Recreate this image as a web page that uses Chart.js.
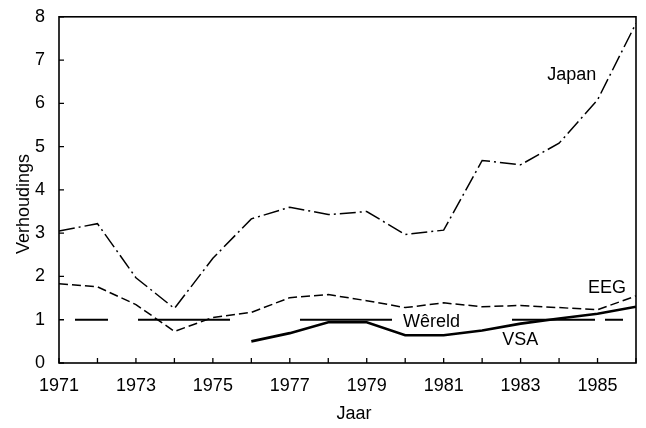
<!DOCTYPE html>
<html>
<head>
<meta charset="utf-8">
<script src="https://cdn.jsdelivr.net/npm/chart.js@4/dist/chart.umd.min.js"></script>
<style>
  html, body { margin: 0; padding: 0; background: #fff; }
  #wrap { width: 646px; height: 428px; }
</style>
</head>
<body>
<div id="wrap"><canvas id="c" width="646" height="428"></canvas></div>
<script>
"use strict";

// Years on the x axis, ratios.
const years = [1971, 1972, 1973, 1974, 1975, 1976, 1977, 1978, 1979, 1980, 1981, 1982, 1983, 1984, 1985, 1986];
const japan = [3.05, 3.22, 1.97, 1.26, 2.42, 3.33, 3.6, 3.43, 3.5, 2.97, 3.07, 4.68, 4.58, 5.08, 6.08, 7.85];
const eeg = [1.83, 1.76, 1.35, 0.73, 1.05, 1.17, 1.51, 1.58, 1.44, 1.28, 1.39, 1.3, 1.33, 1.28, 1.23, 1.55];
const vsa = [null, null, null, null, null, 0.5, 0.69, 0.94, 0.94, 0.64, 0.64, 0.75, 0.91, 1.03, 1.14, 1.3];
const wereld = [1, 1, 1, 1, 1, 1, 1, 1, 1, 1, 1, 1, 1, 1, 1, 1];
const yTicks = [0, 1, 2, 3, 4, 5, 6, 7, 8];

// In-chart labels: [text, x (year), y (ratio)]
const seriesLabels = [
  ["Japan", 1983.69, 6.65],
  ["EEG", 1984.75, 1.74],
  ["Wêreld", 1979.94, 0.94],
  ["VSA", 1982.52, 0.53],
];

const FONT = "'Liberation Sans', Arial, Helvetica, sans-serif";

const pts = (arr) => years.map((y, i) => ({ x: y, y: arr[i] }));

// Frame, inward tick marks, axis titles and series names.
const decor = {
  id: "decor",
  afterDraw(chart) {
    const { ctx, chartArea: a, scales } = chart;
    const xs = scales.x, ys = scales.y;
    ctx.save();
    ctx.strokeStyle = "#000";
    ctx.lineWidth = 1.6;
    ctx.strokeRect(a.left, a.top, a.right - a.left, a.bottom - a.top);

    ctx.lineWidth = 1.3;
    ctx.beginPath();
    years.forEach((yr) => {
      const px = xs.getPixelForValue(yr);
      ctx.moveTo(px, a.bottom);
      ctx.lineTo(px, a.bottom - 5);
    });
    yTicks.forEach((v) => {
      const py = ys.getPixelForValue(v);
      ctx.moveTo(a.left, py);
      ctx.lineTo(a.left + 5, py);
    });
    ctx.stroke();

    ctx.fillStyle = "#000";
    ctx.font = `18px ${FONT}`;
    ctx.textBaseline = "middle";
    ctx.textAlign = "left";
    seriesLabels.forEach(([t, x, y]) => {
      ctx.fillText(t, xs.getPixelForValue(x), ys.getPixelForValue(y));
    });

    ctx.textAlign = "center";
    ctx.fillText("Jaar", 354, 414);
    ctx.translate(24, 204);
    ctx.rotate(-Math.PI / 2);
    ctx.fillText("Verhoudings", 0, 0);
    ctx.restore();
  },
};

new Chart(document.getElementById("c"), {
  type: "line",
  data: {
    datasets: [
      { label: "Japan", data: pts(japan), borderColor: "#000", borderWidth: 1.5, borderDash: [16, 4, 2, 4] },
      { label: "EEG", data: pts(eeg), borderColor: "#000", borderWidth: 1.5, borderDash: [9, 4] },
      { label: "Wêreld", data: pts(wereld), borderColor: "#000", borderWidth: 1.8,
        borderDash: [0, 16, 33, 30, 92, 70, 92, 120, 83, 10, 18, 200] },
      { label: "VSA", data: pts(vsa), borderColor: "#000", borderWidth: 2.6, spanGaps: false },
    ],
  },
  options: {
    responsive: false,
    animation: false,
    layout: { padding: { top: 13, right: 10, left: 0, bottom: 0 } },
    elements: { point: { radius: 0 }, line: { tension: 0, borderCapStyle: "butt" } },
    plugins: { legend: { display: false }, tooltip: { enabled: false } },
    scales: {
      x: {
        type: "linear",
        min: 1971,
        max: 1986,
        afterFit: (s) => { s.height = 65; },
        grid: { display: false },
        border: { display: false },
        ticks: {
          stepSize: 1,
          autoSkip: false,
          maxRotation: 0,
          padding: 4,
          color: "#000",
          font: { family: FONT, size: 18 },
          callback: (v) => (v % 2 === 1 ? String(v) : ""),
        },
      },
      y: {
        min: 0,
        max: 8,
        afterFit: (s) => { s.width = 59; },
        grid: { display: false },
        border: { display: false },
        ticks: {
          stepSize: 1,
          padding: 6,
          color: "#000",
          font: { family: FONT, size: 18 },
        },
      },
    },
  },
  plugins: [decor],
});
</script>
</body>
</html>
